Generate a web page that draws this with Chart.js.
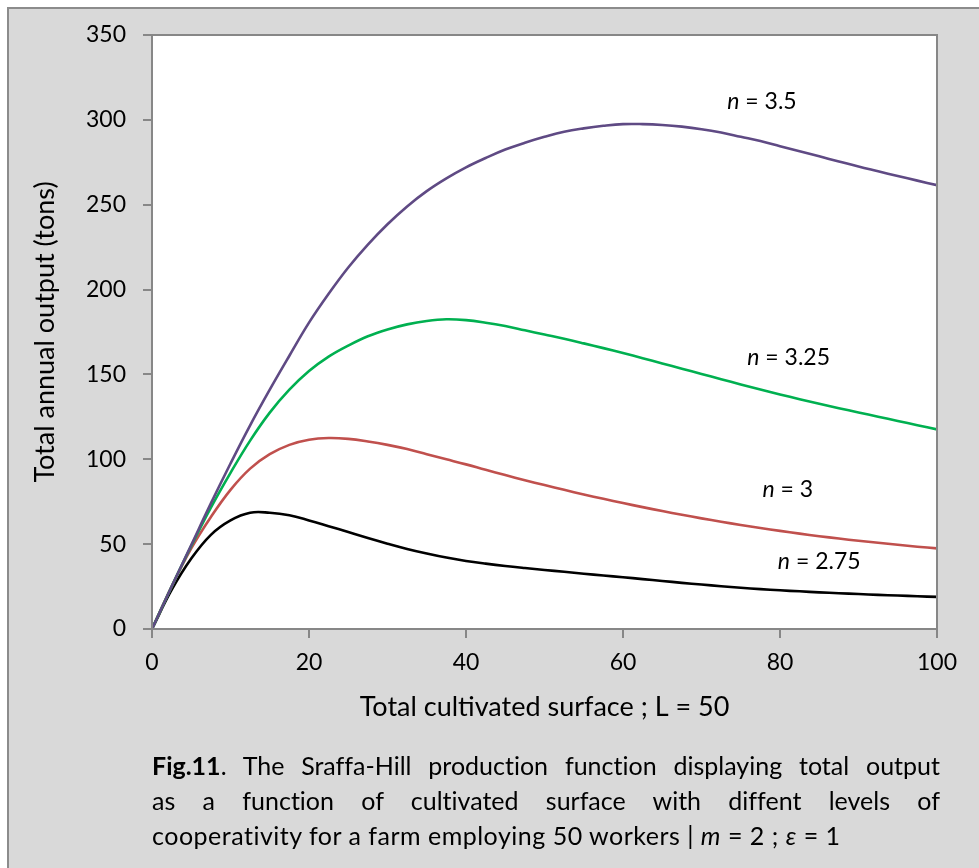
<!DOCTYPE html>
<html>
<head>
<meta charset="utf-8">
<script src="https://cdn.jsdelivr.net/npm/chart.js@4"></script>
<style>
body { margin: 0; background: #fff; }
#frame { position: absolute; left: 7px; top: 7px; width: 1000px; height: 1000px; border: 2px solid #8c8c8c; background: #d9d9d9; }
#myChart { position: absolute; left: 0; top: 0; }
#caption { position: absolute; left: 152px; top: 748px; width: 788px; font-family: Lato, sans-serif; font-size: 25px; line-height: 35px; color: #000; font-variant-ligatures: none; }
#caption .ln { text-align: justify; text-align-last: justify; }
#caption .last { text-align: left; letter-spacing: 0.5px; }
</style>
</head>
<body>
<div id="frame"></div>
<canvas id="myChart" width="979" height="868"></canvas>
<div id="caption">
  <div class="ln"><b>Fig.11</b>. The Sraffa-Hill production function displaying total output</div>
  <div class="ln">as a function of cultivated surface with diffent levels of</div>
  <div class="last">cooperativity for a farm employing 50 workers | <i>m</i> = 2 ; <i>ε</i> = 1</div>
</div>
<script>
// data (surface in steps of 2.5)
const surface = [0, 2.5, 5, 7.5, 10, 12.5, 15, 17.5, 20, 22.5, 25, 27.5, 30, 32.5, 35, 37.5, 40, 42.5, 45, 47.5,
  50, 52.5, 55, 57.5, 60, 62.5, 65, 67.5, 70, 72.5, 75, 77.5, 80, 82.5, 85, 87.5, 90, 92.5, 95, 97.5, 100];

// n = 3.5
const n350 = [0, 25, 49.5, 74, 97.5, 120, 141, 161, 180.5, 197.5, 213, 226.5, 238.5, 249, 258, 265.5, 272, 277.5, 282.5, 286.5,
  290, 293, 295, 296.5, 297.5, 297.5, 297, 296, 294.5, 292.5, 290, 287.5, 284.5, 281.5, 278.5, 275.5, 272.5, 269.7, 266.9, 264.2, 261.5];
// n = 3.25
const n325 = [0, 25, 49, 71.5, 92, 111, 127.5, 141, 152, 160.5, 167, 172.5, 176.5, 179.5, 181.5, 182.5, 182, 180.5, 178.5, 176,
  173.5, 171, 168.3, 165.5, 162.6, 159.6, 156.5, 153.4, 150.3, 147.2, 144.1, 141.1, 138.2, 135.4, 132.7, 130.1, 127.6, 125.1, 122.6, 120.1, 117.6];
// n = 3
const n300 = [0, 25, 47.5, 66, 82, 94.5, 103, 108.5, 111.5, 112.5, 112, 110.5, 108.5, 106, 103, 100, 97, 93.8, 90.7, 87.7,
  84.8, 82, 79.3, 76.7, 74.2, 71.8, 69.5, 67.3, 65.2, 63.2, 61.3, 59.5, 57.8, 56.2, 54.7, 53.3, 52, 50.8, 49.6, 48.5, 47.5];
// n = 2.75
const n275 = [0, 23, 41.5, 55.5, 64, 68.5, 68.5, 67, 64, 60.6, 57.1, 53.6, 50.3, 47.2, 44.5, 42.1, 40.1, 38.5, 37.1, 35.9,
  34.8, 33.7, 32.6, 31.5, 30.5, 29.4, 28.3, 27.2, 26.2, 25.2, 24.3, 23.5, 22.8, 22.2, 21.6, 21.1, 20.6, 20.1, 19.7, 19.3, 18.9];

const xTicks = [0, 20, 40, 60, 80, 100];
const yTicks = [0, 50, 100, 150, 200, 250, 300, 350];

// curve labels (n values) and where they sit, in data units
const labelText = ['3.5', '3.25', '3', '2.75'];
const labelX = [77.7, 81.1, 81.0, 85.0];
const labelY = [311, 160, 82.5, 39.8];

const FONT = 'Lato, sans-serif';
const AXIS = '#878787';

function pts(ys) {
  return surface.map((x, i) => ({ x: x, y: ys[i] }));
}

function line(data, color) {
  return {
    data: pts(data),
    borderColor: color,
    borderWidth: 2.6,
    pointRadius: 0,
    fill: false,
    tension: 0.4
  };
}

const plotFrame = {
  id: 'plotFrame',
  beforeDraw(chart) {
    const a = chart.chartArea, ctx = chart.ctx;
    ctx.save();
    ctx.fillStyle = '#fff';
    ctx.fillRect(a.left, a.top, a.right - a.left, a.bottom - a.top);
    ctx.restore();
  },
  afterDraw(chart) {
    const a = chart.chartArea, ctx = chart.ctx;
    ctx.save();
    ctx.strokeStyle = AXIS;
    ctx.lineWidth = 2;
    ctx.strokeRect(a.left, a.top, a.right - a.left, a.bottom - a.top);
    // n = ... labels
    const xs = chart.scales.x, ys = chart.scales.y;
    ctx.fillStyle = '#000';
    ctx.textBaseline = 'alphabetic';
    for (let i = 0; i < labelText.length; i++) {
      ctx.font = 'italic 23px ' + FONT;
      const w1 = ctx.measureText('n').width;
      ctx.font = '23px ' + FONT;
      const rest = ' = ' + labelText[i];
      const w2 = ctx.measureText(rest).width;
      const cx = xs.getPixelForValue(labelX[i]);
      const cy = ys.getPixelForValue(labelY[i]) + 8;
      const x0 = cx - (w1 + w2) / 2;
      ctx.font = 'italic 23px ' + FONT;
      ctx.fillText('n', x0, cy);
      ctx.font = '23px ' + FONT;
      ctx.fillText(rest, x0 + w1, cy);
    }
    ctx.restore();
  }
};

var ctx = document.getElementById('myChart').getContext('2d');
var chart = new Chart(ctx, {
  type: 'line',
  data: {
    datasets: [
      line(n350, '#5f4a84'),
      line(n325, '#00b050'),
      line(n300, '#c0504d'),
      line(n275, '#000000')
    ]
  },
  options: {
    responsive: false,
    animation: false,
    layout: { padding: { left: 0, top: 35, right: 42, bottom: 139 } },
    plugins: { legend: { display: false }, tooltip: { enabled: false } },
    scales: {
      x: {
        type: 'linear',
        min: 0, max: 100,
        afterFit(s) { s.height = 100; },
        afterBuildTicks(s) { s.ticks = xTicks.map(v => ({ value: v })); },
        grid: { drawOnChartArea: false, drawTicks: true, tickLength: 9, color: AXIS, lineWidth: 2 },
        border: { display: true, color: AXIS, width: 2 },
        ticks: { color: '#000', font: { family: FONT, size: 23 }, padding: 11, maxRotation: 0 },
        title: { display: true, text: 'Total cultivated surface ; L = 50', color: '#000', font: { family: FONT, size: 27 }, padding: { top: 0, bottom: 6 } }
      },
      y: {
        type: 'linear',
        min: 0, max: 350,
        afterFit(s) { s.width = 152; },
        afterBuildTicks(s) { s.ticks = yTicks.map(v => ({ value: v })); },
        grid: { drawOnChartArea: false, drawTicks: true, tickLength: 9, color: AXIS, lineWidth: 2 },
        border: { display: true, color: AXIS, width: 2 },
        ticks: { color: '#000', font: { family: FONT, size: 23 }, padding: 17 },
        title: { display: true, text: 'Total annual output (tons)', color: '#000', font: { family: FONT, size: 27 }, padding: { top: 29, bottom: 0 } }
      }
    }
  },
  plugins: [plotFrame]
});
</script>
</body>
</html>
